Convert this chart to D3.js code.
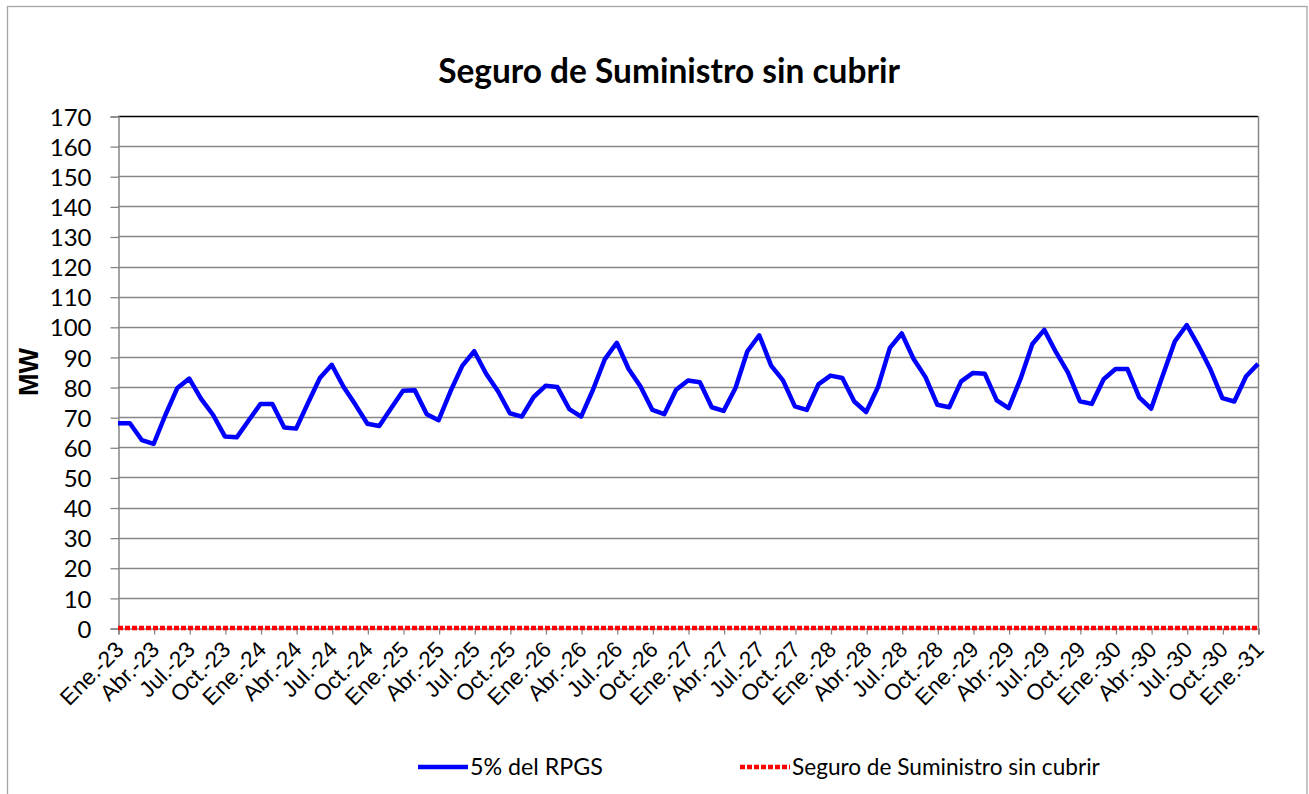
<!DOCTYPE html>
<html>
<head>
<meta charset="utf-8">
<script src="https://cdn.jsdelivr.net/npm/d3@7"></script>
<style>
  html, body { margin: 0; padding: 0; background: #fff; }
  svg { display: block; }
</style>
</head>
<body>
<svg id="chart" width="1309" height="794"></svg>
<script>
// ---- data ----
const title = "Seguro de Suministro sin cubrir";
const yTitle = "MW";
const seriesNames = ["5% del RPGS", "Seguro de Suministro sin cubrir"];
const quarterNames = ["Ene.", "Abr.", "Jul.", "Oct."];
const yearLabels = ["23", "24", "25", "26", "27", "28", "29", "30", "31"];
const yTicks = [0, 10, 20, 30, 40, 50, 60, 70, 80, 90, 100, 110, 120, 130, 140, 150, 160, 170];
// monthly values, Ene-23 .. Ene-31 (97 months)
const rpgs5 = [
  68.0, 68.0, 62.4, 61.1, 70.8, 79.7, 82.8, 76.1, 70.8, 63.6, 63.3, 68.9,
  74.4, 74.4, 66.6, 66.2, 74.7, 83.0, 87.4, 80.0, 74.1, 67.8, 67.1, 73.0,
  78.8, 78.9, 71.0, 69.0, 78.6, 87.1, 91.9, 84.4, 78.6, 71.3, 70.2, 76.7,
  80.4, 80.0, 72.7, 70.2, 79.1, 89.3, 94.7, 86.0, 80.2, 72.4, 71.0, 79.1,
  82.2, 81.6, 73.3, 72.1, 79.7, 91.9, 97.2, 87.1, 82.2, 73.6, 72.4, 81.0,
  83.8, 83.0, 75.2, 71.7, 80.0, 93.0, 97.8, 89.3, 83.3, 74.1, 73.3, 81.9,
  84.7, 84.4, 75.6, 73.0, 82.7, 94.3, 99.0, 91.5, 84.8, 75.3, 74.4, 82.6,
  86.0, 86.0, 76.6, 72.8, 84.1, 95.2, 100.6, 93.6, 85.8, 76.3, 75.2, 83.6,
  87.7
];
const sinCubrir = [
  0,0,0,0,0,0,0,0,0,0,0,0,
  0,0,0,0,0,0,0,0,0,0,0,0,
  0,0,0,0,0,0,0,0,0,0,0,0,
  0,0,0,0,0,0,0,0,0,0,0,0,
  0,0,0,0,0,0,0,0,0,0,0,0,
  0,0,0,0,0,0,0,0,0,0,0,0,
  0,0,0,0,0,0,0,0,0,0,0,0,
  0,0,0,0,0,0,0,0,0,0,0,0,
  0
];

// quarterly tick labels (every 3 months)
const tickLabels = [];
yearLabels.forEach(y => quarterNames.forEach(q => tickLabels.push(q + "-" + y)));
const tickIndex = tickLabels.map((d, i) => i * 3).filter(i => i < rpgs5.length);

// ---- layout ----
const svg = d3.select("#chart");
const L = 118, R = 1258, T = 116, B = 628;
const x = d3.scaleLinear().domain([0, rpgs5.length - 1]).range([L, R]);
const y = d3.scaleLinear().domain([0, 170]).range([B, T]);

const gray = "#868686";

// outer frame
svg.append("rect").attr("x", 7.5).attr("y", 6.5).attr("width", 1299.5).attr("height", 800)
  .attr("fill", "#fff").attr("stroke", "#a6a6a6").attr("stroke-width", 1.3);

// gridlines
svg.append("g").selectAll("line").data(yTicks.filter(d => d > 0)).join("line")
  .attr("x1", L).attr("x2", R)
  .attr("y1", d => Math.round(y(d)) + 0.5).attr("y2", d => Math.round(y(d)) + 0.5)
  .attr("stroke", d => d === 170 ? "#000" : gray).attr("stroke-width", 1.3);

// right border
svg.append("line").attr("x1", R + 0.5).attr("x2", R + 0.5).attr("y1", T).attr("y2", B)
  .attr("stroke", gray).attr("stroke-width", 1.5);

// y axis
const yAxis = d3.axisLeft(y).tickValues(yTicks).tickSize(8).tickPadding(19).tickFormat(d3.format("d"));
const gy = svg.append("g").attr("transform", `translate(${L + 0.5},0.5)`).call(yAxis);
gy.select(".domain").attr("stroke", gray).attr("stroke-width", 1.5);
gy.selectAll(".tick line").attr("stroke", gray).attr("stroke-width", 1.3);
gy.selectAll(".tick text").attr("font-family", "Lato, 'Open Sans', sans-serif").attr("font-size", 24)
  .attr("fill", "#000").attr("dy", "0.36em");

// x axis
const xAxis = d3.axisBottom(x).tickValues(tickIndex).tickSize(6).tickFormat(() => "");
const gx = svg.append("g").attr("transform", `translate(0.5,${B + 0.5})`).call(xAxis);
gx.select(".domain").attr("stroke", gray).attr("stroke-width", 1.5);
gx.selectAll(".tick line").attr("stroke", gray).attr("stroke-width", 1.3);

svg.append("g").selectAll("text").data(tickIndex).join("text")
  .attr("transform", i => `translate(${x(i) + 7},${B + 23}) rotate(-45)`)
  .attr("text-anchor", "end")
  .attr("font-family", "'Liberation Sans', Arial, sans-serif")
  .attr("font-size", 22.5)
  .attr("fill", "#000")
  .text((i, k) => tickLabels[k]);

// series
const line = d3.line().x((d, i) => x(i)).y(d => y(d));
svg.append("path").datum(rpgs5).attr("d", line)
  .attr("fill", "none").attr("stroke", "#0000ff").attr("stroke-width", 4.5)
  .attr("stroke-linejoin", "round");
svg.append("path").datum(sinCubrir).attr("d", line)
  .attr("fill", "none").attr("stroke", "#ff0000").attr("stroke-width", 4.5)
  .attr("stroke-dasharray", "5,2");

// fit helper: scale font size so that text spans target width
function fit(sel, target) {
  const w = sel.node().getComputedTextLength();
  const fs = parseFloat(sel.attr("font-size"));
  sel.attr("font-size", fs * target / w);
}

// title
const t = svg.append("text").attr("x", 669).attr("y", 83).attr("text-anchor", "middle")
  .attr("font-family", "Lato, 'Open Sans', sans-serif").attr("font-weight", "bold")
  .attr("font-size", 30).attr("fill", "#000").text(title);
fit(t, 462);

// y title
svg.append("text").attr("transform", "translate(38,372) rotate(-90)").attr("text-anchor", "middle")
  .attr("font-family", "'Liberation Sans', Arial, sans-serif").attr("font-weight", "bold")
  .attr("font-size", 27).attr("fill", "#000").text(yTitle);

// legend
const lg = svg.append("g");
lg.append("line").attr("x1", 418).attr("x2", 468).attr("y1", 767).attr("y2", 767)
  .attr("stroke", "#0000ff").attr("stroke-width", 4.5);
const l1 = lg.append("text").attr("x", 470).attr("y", 775)
  .attr("font-family", "Lato, 'Open Sans', sans-serif").attr("font-size", 22).attr("fill", "#000")
  .text(seriesNames[0]);
fit(l1, 133);
lg.append("line").attr("x1", 740).attr("x2", 790).attr("y1", 767).attr("y2", 767)
  .attr("stroke", "#ff0000").attr("stroke-width", 4.5).attr("stroke-dasharray", "5,2");
const l2 = lg.append("text").attr("x", 792).attr("y", 775)
  .attr("font-family", "Lato, 'Open Sans', sans-serif").attr("font-size", 22).attr("fill", "#000")
  .text(seriesNames[1]);
fit(l2, 308);
</script>
</body>
</html>
